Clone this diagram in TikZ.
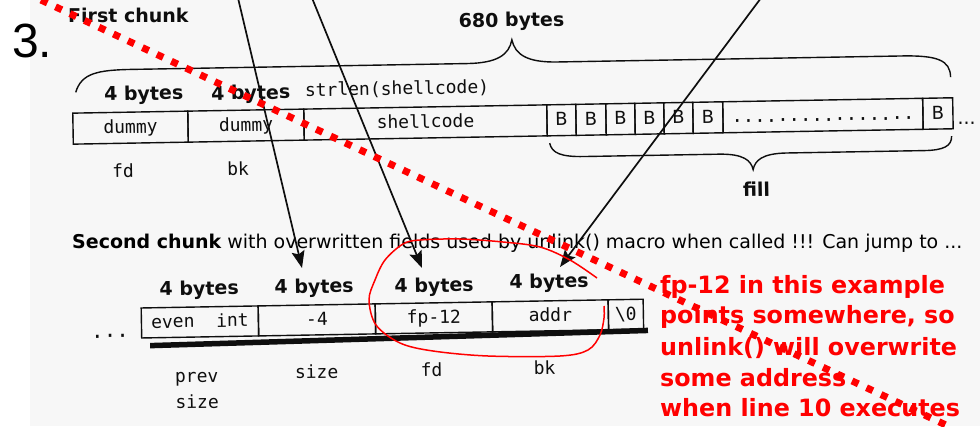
\documentclass[tikz,border=0pt]{standalone}
\usepackage{fontspec}
\usetikzlibrary{arrows.meta}
\newfontfamily\dvs{DejaVu Sans}
\newfontfamily\dvm{DejaVu Sans Mono}
\newfontfamily\lib{Liberation Sans}
\definecolor{scanbg}{HTML}{F7F7F7}
\definecolor{ink}{HTML}{0E0E0E}
\definecolor{redmark}{HTML}{FF0000}
\begin{document}
\begin{tikzpicture}[x=1pt,y=-1pt,
  hbold/.style={font=\dvs\bfseries\fontsize{19}{22}\selectfont, text=ink, inner sep=0pt, anchor=base},
  mlabel/.style={font=\dvm\fontsize{18}{20}\selectfont, text=ink, inner sep=0pt, anchor=base},
  cellbox/.style={draw=ink, line width=1.4pt, inner sep=0pt, anchor=north west,
    text height=14pt, text depth=3pt, text=ink},
  monocell/.style={cellbox, font=\dvm\fontsize{18}{20}\selectfont},
  sanscell/.style={cellbox, font=\dvs\fontsize{18}{20}\selectfont},
  toprow/.style={minimum height=31pt},
  botrow/.style={minimum height=30pt},
  ptr/.style={draw=ink, line width=1.7pt, -{Stealth[length=17pt,width=13pt,inset=3pt]}},
  redtxt/.style={font=\dvs\bfseries\fontsize{23.8}{30.8}\selectfont, text=redmark, inner sep=0pt, anchor=base west},
  bracepath/.style={draw=ink, line width=1.4pt},
]
\useasboundingbox (0,0) rectangle (980,426);
\fill[scanbg] (30,0) rectangle (980,426);

\node[font=\lib\fontsize{48}{50}\selectfont, anchor=base west, inner sep=0pt] (num) at (12,57) {3.};
\node[hbold, anchor=base west] (first) at (68,22) {First chunk};

\begin{scope}[rotate around={1:(500,220)}, transform shape]
  % top brace (680 bytes)
  \draw[bracepath] (78,85) .. controls (84,66) and (100,63) .. (135,63) -- (470,63)
     .. controls (500,63) and (512,55) .. (515,40)
     .. controls (518,55) and (530,63) .. (560,63) -- (905,63)
     .. controls (940,63) and (953,68) .. (953,85);
  \node[hbold] (b680) at (515,27) {680 bytes};
  \node[hbold] (t4a) at (146,94) {4 bytes};
  \node[hbold] (t4b) at (253,95) {4 bytes};
  \node[mlabel, anchor=base west] (strlen) at (307,93) {strlen(shellcode)};

  % first chunk row
  \node[monocell, toprow, minimum width=115pt] (d1) at (74,105) {dummy};
  \node[monocell, toprow, minimum width=116pt] (d2) at (189,105) {dummy};
  \node[monocell, toprow, minimum width=243pt] (sc) at (305,105) {shellcode};
  \node[sanscell, toprow, minimum width=29pt] (B1) at (548,105) {B};
  \node[sanscell, toprow, minimum width=30pt] (B2) at (577,105) {B};
  \node[sanscell, toprow, minimum width=29pt] (B3) at (607,105) {B};
  \node[sanscell, toprow, minimum width=29pt] (B4) at (636,105) {B};
  \node[sanscell, toprow, minimum width=29pt] (B5) at (665,105) {B};
  \node[sanscell, toprow, minimum width=30pt] (B6) at (694,105) {B};
  \node[cellbox, toprow, minimum width=200pt, font=\dvm\fontsize{19}{20}\selectfont] (dots) at (724,105) {................};
  \node[sanscell, toprow, minimum width=30pt] (B7) at (924,105) {B};
  \node[font=\dvs\fontsize{19}{22}\selectfont, text=ink, inner sep=0pt, anchor=base west] (more1) at (959,132.5) {...};

  \node[mlabel] (fd1) at (124,171) {fd};
  \node[mlabel] (bk1) at (239,171) {bk};

  % fill brace
  \draw[bracepath] (551,144) .. controls (553,154) and (562,158) .. (585,158) -- (720,158)
     .. controls (745,158) and (752,165) .. (754,174)
     .. controls (756,165) and (763,158) .. (788,158) -- (925,158)
     .. controls (945,158) and (953,154) .. (953,144);
  \node[hbold] (fill) at (757,201) {fill};

  % second chunk row
  \node[hbold] (s4a) at (198,290) {4 bytes};
  \node[hbold] (s4b) at (313,290) {4 bytes};
  \node[hbold] (s4c) at (433,291) {4 bytes};
  \node[hbold] (s4d) at (548,289) {4 bytes};
  \node[font=\dvm\fontsize{21}{22}\selectfont, text=ink, inner sep=0pt, anchor=base west] (more2) at (89,331) {...};
  \node[monocell, botrow, minimum width=117pt] (prev) at (139,301) {even\ \ int};
  \node[monocell, botrow, minimum width=117pt] (sz) at (256,301) {-4};
  \node[monocell, botrow, minimum width=117pt] (fd2c) at (373,301) {fp-12};
  \node[monocell, botrow, minimum width=116pt] (bk2c) at (490,301) {addr};
  \node[monocell, botrow, minimum width=35pt] (nul) at (606,301) {\textbackslash 0};
  \draw[ink, line width=5.5pt] (148,339.5) -- (646,333);

  \node[mlabel] (lprev) at (194,377) {prev};
  \node[mlabel] (lprev2) at (194,403) {size};
  \node[mlabel] (lsize) at (314,375) {size};
  \node[mlabel] (lfd) at (429,375) {fd};
  \node[mlabel] (lbk) at (542,375) {bk};
\end{scope}

\node[font=\dvs\fontsize{19}{22}\selectfont, text=black, inner sep=0pt, anchor=base west] (second) at (72,248)
  {{\bfseries Second chunk} with overwritten fields used by unlink() macro when called !!! Can jump to ...};

% pointers
\coordinate (p1top) at (238,-2);
\coordinate (p1tip) at (302,268);
\coordinate (p2top) at (312,-2);
\coordinate (p2tip) at (422,268);
\coordinate (p3top) at (761,-2);
\coordinate (p3tip) at (560,267);
\draw[ptr] (p1top) -- (p1tip);
\draw[ptr] (p2top) -- (p2tip);
\draw[ptr] (p3top) -- (p3tip);

% red annotations
\node[redtxt] (r1) at (660,293) {fp-12 in this example};
\node[redtxt] (r2) at (660,323) {points somewhere, so};
\node[redtxt] (r3) at (660,355) {unlink() will overwrite};
\node[redtxt] (r4) at (660,386) {some address};
\node[redtxt] (r5) at (660,416) {when line 10 executes};

\draw[redmark, line width=1.5pt] plot[smooth, tension=0.55] coordinates {(597,278) (570,260) (540,247) (503,242) (460,239) (420,240) (403,244) (385,260) (375,280) (369,300) (376,325) (400,343) (433,351) (488,356) (560,356) (588,350) (600,335) (604,318) (604,306)};

\coordinate (rs) at (41,0);
\coordinate (re) at (948,426);
\draw[redmark, line width=7pt, dash pattern=on 7pt off 9pt] (rs) -- (re);
\end{tikzpicture}
\end{document}
